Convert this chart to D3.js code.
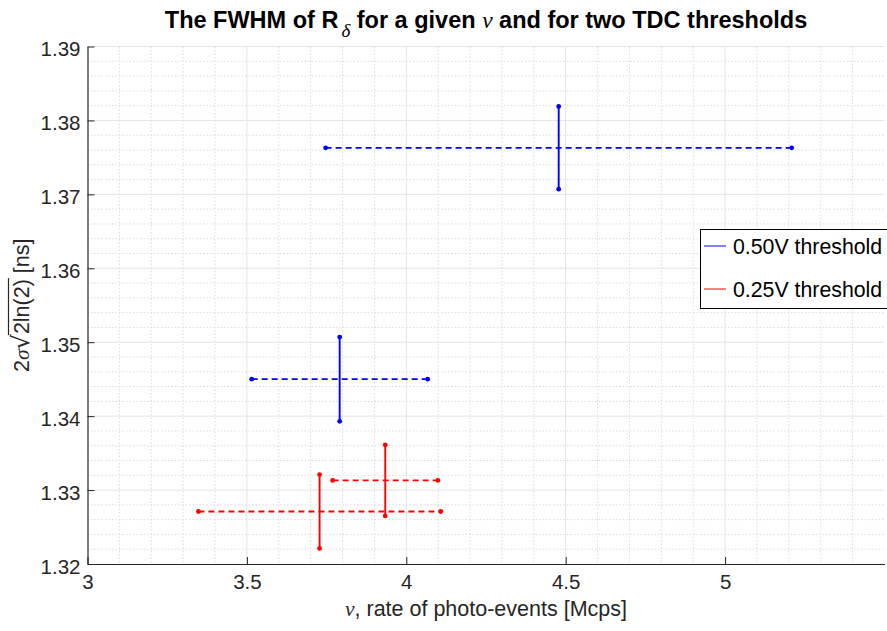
<!DOCTYPE html>
<html><head><meta charset="utf-8">
<script src="https://cdn.jsdelivr.net/npm/d3@7"></script>
<style>
body{margin:0;background:#fff}
text{font-family:"Liberation Sans",Arial,Helvetica,sans-serif;fill:#262626}
</style>
</head><body>
<svg id="chart" width="887" height="631"></svg>
<script>
// ---- data ----
const seriesNames = ["0.50V threshold", "0.25V threshold"];
const seriesColors = ["#0000ff", "#ff0000"];
const blueRate = [4.478, 3.791];
const blueFwhm = [1.3763, 1.3450];
const blueRateErr = [0.731, 0.276];
const blueFwhmErr = [0.0056, 0.0057];
const redRate = [3.728, 3.934];
const redFwhm = [1.3271, 1.3313];
const redRateErr = [0.380, 0.165];
const redFwhmErr = [0.0050, 0.0048];
const xTickValues = [3, 3.5, 4, 4.5, 5];
const xTickLabels = ["3", "3.5", "4", "4.5", "5"];
const yTickValues = [1.32, 1.33, 1.34, 1.35, 1.36, 1.37, 1.38, 1.39];
const yTickLabels = ["1.32", "1.33", "1.34", "1.35", "1.36", "1.37", "1.38", "1.39"];
const xDomain = [3, 5.5];
const yDomain = [1.32, 1.39];

const series = [
  {name: seriesNames[0], color: seriesColors[0], x: blueRate, y: blueFwhm, xe: blueRateErr, ye: blueFwhmErr},
  {name: seriesNames[1], color: seriesColors[1], x: redRate, y: redFwhm, xe: redRateErr, ye: redFwhmErr}
];

const svg = d3.select("#chart");
const L = 87.5, R = 884.5, T = 46.5, B = 564;
const x = d3.scaleLinear().domain(xDomain).range([L, R]);
const y = d3.scaleLinear().domain(yDomain).range([B, T]);
const serif = '"Liberation Serif","DejaVu Serif",serif';

// minor grid
const xMinor = d3.range(31, 55).map(v => v / 10).filter(v => Math.abs(v * 2 - Math.round(v * 2)) > 1e-6);
const yMinor = d3.range(0, 36).map(i => 1.32 + i * 0.002).filter(v => Math.abs(v * 100 - Math.round(v * 100)) > 1e-6);
const g = svg.append("g");
g.selectAll(".xm").data(xMinor).join("line")
  .attr("x1", d => x(d)).attr("x2", d => x(d)).attr("y1", T).attr("y2", B)
  .attr("stroke", "#dcdcdc").attr("stroke-width", 1).attr("stroke-dasharray", "1.5,2");
g.selectAll(".ym").data(yMinor).join("line")
  .attr("x1", L).attr("x2", R).attr("y1", d => y(d)).attr("y2", d => y(d))
  .attr("stroke", "#dcdcdc").attr("stroke-width", 1).attr("stroke-dasharray", "1.5,2");
// major grid
g.selectAll(".xg").data([3.5, 4, 4.5, 5]).join("line")
  .attr("x1", d => x(d)).attr("x2", d => x(d)).attr("y1", T).attr("y2", B)
  .attr("stroke", "#e3e3e3").attr("stroke-width", 1);
g.selectAll(".yg").data(yTickValues.slice(1)).join("line")
  .attr("x1", L).attr("x2", R).attr("y1", d => y(d)).attr("y2", d => y(d))
  .attr("stroke", "#e3e3e3").attr("stroke-width", 1);

// axes
const xAxis = d3.axisBottom(x).tickValues(xTickValues).tickFormat((d, i) => xTickLabels[i]).tickSizeInner(-7).tickSizeOuter(0);
const yAxis = d3.axisLeft(y).tickValues(yTickValues).tickFormat((d, i) => yTickLabels[i]).tickSizeInner(-7).tickSizeOuter(0);
const gx = svg.append("g").attr("transform", `translate(0,${B})`).call(xAxis);
const gy = svg.append("g").attr("transform", `translate(${L},0)`).call(yAxis);
[gx, gy].forEach(a => {
  a.select(".domain").attr("stroke", "#262626").attr("stroke-width", 1.2);
  a.selectAll(".tick line").attr("stroke", "#262626").attr("stroke-width", 1);
  a.selectAll(".tick text").attr("font-size", 20.5).attr("fill", "#262626")
    .style("font-family", '"Liberation Sans",Arial,sans-serif');
});
gy.selectAll(".tick text").attr("dy", "0.45em").attr("x", -7);
gx.selectAll(".tick text").attr("dy", "0.71em").attr("y", 10);

// error bars
series.forEach(s => {
  const pts = s.x.map((v, i) => ({x: v, y: s.y[i], xe: s.xe[i], ye: s.ye[i]}));
  const sg = svg.append("g");
  sg.selectAll(".h").data(pts).join("line")
    .attr("x1", d => x(d.x - d.xe)).attr("x2", d => x(d.x + d.xe))
    .attr("y1", d => y(d.y)).attr("y2", d => y(d.y))
    .attr("stroke", s.color).attr("stroke-width", 1.8).attr("stroke-dasharray", "6,4");
  sg.selectAll(".v").data(pts).join("line")
    .attr("x1", d => x(d.x)).attr("x2", d => x(d.x))
    .attr("y1", d => y(d.y - d.ye)).attr("y2", d => y(d.y + d.ye))
    .attr("stroke", s.color).attr("stroke-width", 1.9);
  const ends = [];
  pts.forEach(d => {
    ends.push([d.x - d.xe, d.y], [d.x + d.xe, d.y], [d.x, d.y - d.ye], [d.x, d.y + d.ye]);
  });
  sg.selectAll("circle").data(ends).join("circle")
    .attr("cx", d => x(d[0])).attr("cy", d => y(d[1])).attr("r", 2.4).attr("fill", s.color);
});

// title
const title = svg.append("text").attr("x", (L + R) / 2).attr("y", 28).attr("text-anchor", "middle")
  .attr("font-size", 23.5).attr("font-weight", "bold").style("fill", "#000");
title.append("tspan").text("The FWHM of R");
title.append("tspan").text("δ").attr("dy", 9).attr("font-size", 19).attr("font-weight", "normal").attr("font-style", "italic")
  .style("font-family", serif).attr("dx", 3);
title.append("tspan").text(" for a given ").attr("dy", -9);
title.append("tspan").text("ν").attr("font-weight", "normal").attr("font-style", "italic").style("font-family", serif);
title.append("tspan").text(" and for two TDC thresholds");

// x label
const xl = svg.append("text").attr("x", (L + R) / 2).attr("y", 616).attr("text-anchor", "middle").attr("font-size", 21.5);
xl.append("tspan").text("ν").attr("font-style", "italic").style("font-family", serif);
xl.append("tspan").text(", rate of photo-events [Mcps]");

// y label
const yg = svg.append("g").attr("transform", `translate(29,${(T + B) / 2}) rotate(-90)`);
const yl = yg.append("text").attr("x", 0).attr("y", 0).attr("text-anchor", "middle").attr("font-size", 21.5);
yl.append("tspan").text("2");
yl.append("tspan").text("σ").attr("font-style", "italic").style("font-family", serif);
yl.append("tspan").text("√").style("font-family", '"DejaVu Sans",sans-serif').attr("font-size", 24);
yl.append("tspan").text("2ln(2)");
yl.append("tspan").text(" [ns]");
try {
  const n = yl.node();
  const full = n.textContent;
  const start = full.indexOf("2ln(2)");
  const e0 = n.getExtentOfChar(start - 1);
  const e1 = n.getExtentOfChar(start + 5);
  yg.append("line").attr("x1", e0.x + e0.width - 1).attr("x2", e1.x + e1.width + 1)
    .attr("y1", e0.y + 1.5).attr("y2", e0.y + 1.5).attr("stroke", "#262626").attr("stroke-width", 1.2);
} catch (e) {}

// legend
const lg = svg.append("g");
lg.append("rect").attr("x", 700.5).attr("y", 229.5).attr("width", 200).attr("height", 79)
  .attr("fill", "#fff").attr("stroke", "#000").attr("stroke-width", 1);
series.forEach((s, i) => {
  const cy = 246 + i * 43;
  lg.append("line").attr("x1", 704).attr("x2", 726).attr("y1", cy).attr("y2", cy)
    .attr("stroke", s.color).attr("stroke-width", 1);
  lg.append("text").attr("x", 733).attr("y", cy + 7.5).attr("font-size", 21.3).style("fill", "#000").text(s.name);
});
</script>
</body></html>
